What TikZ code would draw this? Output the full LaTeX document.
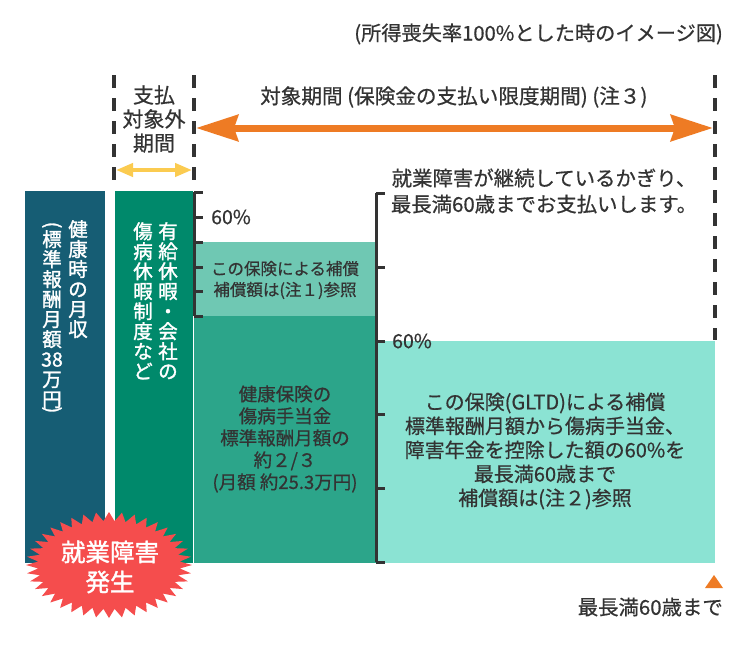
\documentclass[tikz,border=0pt]{standalone}
\usepackage{fontspec}
\usepackage{graphicx}
\setmainfont{Noto Sans CJK JP}[FakeBold=0.6]
\newfontfamily\whitefont{Noto Sans CJK JP}[FakeBold=1.4]
\usetikzlibrary{arrows.meta}
\definecolor{barblue}{HTML}{165D74}
\definecolor{bargreen}{HTML}{00896B}
\definecolor{boxdark}{HTML}{2CA58A}
\definecolor{boxlight}{HTML}{6FC8B3}
\definecolor{boxaqua}{HTML}{8BE3D3}
\definecolor{arroworange}{HTML}{EE7B24}
\definecolor{arrowyellow}{HTML}{FBCB50}
\definecolor{burstred}{HTML}{F54D4D}
\definecolor{ink}{HTML}{333333}
\newcommand{\fsz}[2]{\fontsize{#1}{#2}\selectfont}
\begin{document}
\begin{tikzpicture}[x=1pt,y=-1pt,
  txt/.style={text=ink, inner sep=0pt, align=center},
  vtxt/.style={text=white, inner sep=0pt, align=center, font=\whitefont\fsz{19.5}{20}, anchor=north},
  vparen/.style={text=white, inner sep=0pt, font=\whitefont\fsz{19.5}{20}, rotate=-90},
  dashline/.style={draw=ink, line width=3.5pt, dash pattern=on 13pt off 10pt},
  axisline/.style={draw=ink, line width=3pt},
  orangearrow/.style={draw=arroworange, line width=7pt,
    {Stealth[length=42pt,width=26pt,inset=4pt]}-{Stealth[length=42pt,width=26pt,inset=4pt]}},
  yellowarrow/.style={draw=arrowyellow, line width=4pt,
    {Triangle[length=17pt,width=13pt]}-{Triangle[length=17pt,width=13pt]}}
]
\useasboundingbox (0,0) rectangle (750,645);
\fill[white] (0,0) rectangle (750,645);

% bars and boxes
\fill[barblue] (25,191) rectangle (105,563);
\fill[bargreen] (115,191) rectangle (193,563);
\fill[boxlight] (194,242) rectangle (376,316);
\fill[boxdark] (194,316) rectangle (376,563);
\fill[boxaqua] (377,341) rectangle (715,563);

% dashed period lines
\draw[dashline] (114,75) -- (114,190);
\draw[dashline] (194,75) -- (194,190);
\draw[dashline] (715,75) -- (715,340);

% axes
\draw[axisline] (194,192) -- (194,316);
\foreach \y in {192,217,242,267,291,316} \draw[axisline] (194,\y) -- (203,\y);
\draw[axisline] (376,193) -- (376,562);
\foreach \y in {193,267,341,414,488,562} \draw[axisline] (376,\y) -- (385,\y);

% arrows
\coordinate (oL) at (196,128);
\coordinate (oR) at (713,128);
\draw[orangearrow] (oL) -- (oR);
\coordinate (yL) at (116,170);
\coordinate (yR) at (192,170);
\draw[yellowarrow] (yL) -- (yR);

% texts
\node[txt, font=\fsz{20.2}{22}, anchor=east] (title) at (723,34) {(所得喪失率100\%とした時のイメージ図)};
\node[txt, font=\fsz{20.6}{22}, anchor=west] (period) at (260,97) {対象期間 (保険金の支払い限度期間) (注３)};
\node[txt, font=\fsz{21}{24}] (excl) at (154,119) {支払\\対象外\\期間};
\node[txt, font=\fsz{20.4}{26}] (cont) at (544,191) {就業障害が継続しているかぎり、\\最長満60歳までお支払いします。};
\node[txt, font=\fsz{19.5}{20}, anchor=west] (pa) at (211,217) {60\%};
\node[txt, font=\fsz{19.5}{20}, anchor=west] (pb) at (392,341) {60\%};
\node[txt, font=\fsz{16.5}{21}] (light) at (285,280) {この保険による補償\\補償額は(注１)参照};
\node[txt, font=\fsz{18.5}{22}] (dark) at (285,439) {健康保険の\\傷病手当金\\標準報酬月額の\\約２/３\\(月額 約25.3万円)};
\node[txt, font=\fsz{20}{24}] (aqua) at (545,451) {この保険(GLTD)による補償\\標準報酬月額から傷病手当金、\\障害年金を控除した額の60\%を\\最長満60歳まで\\補償額は(注２)参照};

% vertical texts
\node[vtxt] (va) at (78,220) {健\\康\\時\\の\\月\\収};
\node[vparen] (po) at (52,225) {(};
\node[vtxt] (vb) at (52,230) {標\\準\\報\\酬\\月\\額\\38\\万\\円};
\node[vparen] (pc) at (52,410) {)};
\node[vtxt] (vc) at (168,222) {有\\給\\休\\暇\\・\\会\\社\\の};
\node[vtxt] (vd) at (143,222) {傷\\病\\休\\暇\\制\\度\\な\\ど};

% starburst
\begin{scope}[shift={(109,565)}]
\fill[burstred] (0:83 and 53) \foreach \i in {0,...,39}{ -- ({\i*9}:83 and 53) -- ({\i*9+4.5}:71 and 44)} -- cycle;
\end{scope}
\node[text=white, font=\whitefont\fsz{24.5}{30}, align=center, inner sep=0pt] (burst) at (110,567) {就業障害\\発生};

% end marker
\fill[arroworange] (714,575) -- (723,588) -- (705,588) -- cycle;
\node[txt, font=\fsz{20.4}{22}, anchor=east] (maxage) at (723,607) {最長満60歳まで};
\end{tikzpicture}
\end{document}
